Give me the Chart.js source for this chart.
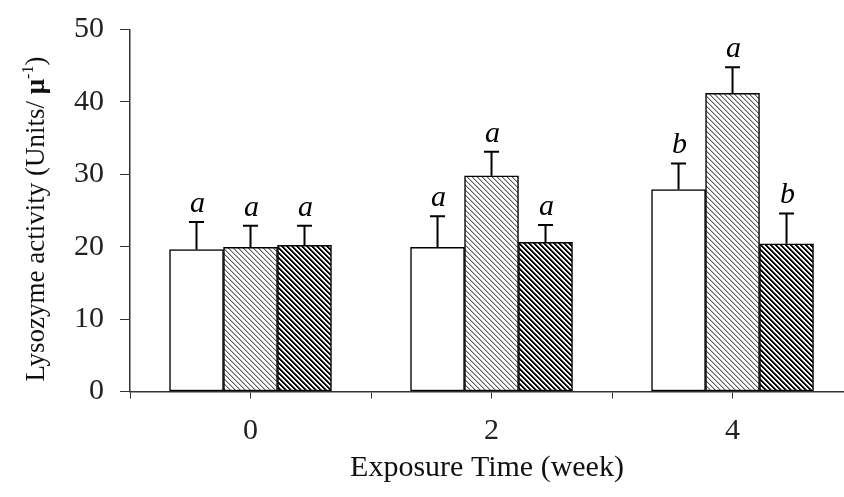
<!DOCTYPE html>
<html>
<head>
<meta charset="utf-8">
<script src="https://cdn.jsdelivr.net/npm/chart.js@4/dist/chart.umd.min.js"></script>
<style>
  html, body { margin: 0; padding: 0; background: #ffffff; }
  #wrap { position: relative; width: 844px; height: 497px; }
  canvas { display: block; }
</style>
</head>
<body>
<div id="wrap"><canvas id="c" width="844" height="497"></canvas></div>
<script>
// ---- data ----
const weeks = [0, 2, 4];
const xTickLabels = ['0', '2', '4'];
const seriesNames = ['Control', 'Treatment 1', 'Treatment 2'];
const controlMean = [19.6, 19.9, 27.9];
const controlSD   = [3.8, 4.3, 3.6];
const treat1Mean  = [19.9, 29.8, 41.2];
const treat1SD    = [3.0, 3.3, 3.6];
const treat2Mean  = [20.2, 20.6, 20.4];
const treat2SD    = [2.7, 2.4, 4.2];
const controlLetters = ['a', 'a', 'b'];
const treat1Letters  = ['a', 'a', 'a'];
const treat2Letters  = ['a', 'a', 'b'];
const yTicks = [0, 10, 20, 30, 40, 50];

const SERIF = "'Liberation Serif', 'Times New Roman', serif";

// ---- hatch patterns ----
function makePattern(kind) {
  const s = 5;
  const c = document.createElement('canvas');
  c.width = s; c.height = s;
  const g = c.getContext('2d');
  g.fillStyle = '#ffffff';
  g.fillRect(0, 0, s, s);
  for (let i = 0; i < s; i++) {
    if (kind === 'light') {
      g.fillStyle = '#5e5e5e';
      g.fillRect(i, i, 1, 1);
      g.fillStyle = '#bdbdbd';
      g.fillRect((i + 1) % s, i, 1, 1);
    } else {
      g.fillStyle = '#000000';
      g.fillRect(i, i, 1, 1);
      g.fillRect((i + 1) % s, i, 1, 1);
      g.fillStyle = '#707070';
      g.fillRect((i + 2) % s, i, 1, 1);
    }
  }
  const ctx = document.getElementById('c').getContext('2d');
  return ctx.createPattern(c, 'repeat');
}
const lightPat = makePattern('light');
const darkPat = makePattern('dark');

function pts(means) { return weeks.map((w, i) => ({ x: w, y: means[i] })); }

const sds = [controlSD, treat1SD, treat2SD];
const letters = [controlLetters, treat1Letters, treat2Letters];

// error bars + letters
const errPlugin = {
  id: 'errbars',
  afterDatasetsDraw(chart) {
    const ctx = chart.ctx;
    const ys = chart.scales.y;
    chart.data.datasets.forEach((ds, di) => {
      const meta = chart.getDatasetMeta(di);
      meta.data.forEach((el, i) => {
        const top = ys.getPixelForValue(ds.data[i].y + sds[di][i]);
        const x = el.x;
        ctx.save();
        ctx.strokeStyle = '#000';
        ctx.lineWidth = 2;
        ctx.beginPath();
        ctx.moveTo(x, el.y);
        ctx.lineTo(x, top);
        ctx.moveTo(x - 7.5, top);
        ctx.lineTo(x + 7.5, top);
        ctx.stroke();
        ctx.fillStyle = '#000';
        ctx.font = 'italic 30px ' + SERIF;
        ctx.textAlign = 'center';
        ctx.textBaseline = 'alphabetic';
        ctx.fillText(letters[di][i], x + 1, top - 10);
        ctx.restore();
      });
    });
  }
};

// y-axis title with bold mu and superscript
const yTitlePlugin = {
  id: 'ytitle',
  afterDraw(chart) {
    const ctx = chart.ctx;
    const parts = [
      { t: 'Lysozyme activity (Units/ ', f: '27px ' + SERIF, dy: 0 },
      { t: '\u03bc', f: 'bold 27px ' + SERIF, dy: 0 },
      { t: '-1', f: '16px ' + SERIF, dy: -11 },
      { t: ')', f: '27px ' + SERIF, dy: 0 }
    ];
    ctx.save();
    let total = 0;
    parts.forEach(p => { ctx.font = p.f; p.w = ctx.measureText(p.t).width; total += p.w; });
    const cx = 44, cy = 219;
    ctx.translate(cx, cy);
    ctx.rotate(-Math.PI / 2);
    ctx.fillStyle = '#111';
    ctx.textAlign = 'left';
    ctx.textBaseline = 'alphabetic';
    let x = -total / 2;
    parts.forEach(p => { ctx.font = p.f; ctx.fillText(p.t, x, p.dy); x += p.w; });
    ctx.restore();
  }
};

new Chart(document.getElementById('c'), {
  type: 'bar',
  data: {
    datasets: [
      { label: seriesNames[0], data: pts(controlMean), backgroundColor: '#ffffff', borderColor: '#000', borderWidth: 1.5, borderSkipped: false },
      { label: seriesNames[1], data: pts(treat1Mean), backgroundColor: lightPat, borderColor: '#000', borderWidth: 1.5, borderSkipped: false },
      { label: seriesNames[2], data: pts(treat2Mean), backgroundColor: darkPat, borderColor: '#000', borderWidth: 1.5, borderSkipped: false }
    ]
  },
  options: {
    responsive: false,
    animation: false,
    devicePixelRatio: 1,
    barThickness: 54,
    layout: { padding: { top: 29.5, right: 0, bottom: 0, left: 0 } },
    plugins: { legend: { display: false }, tooltip: { enabled: false } },
    scales: {
      x: {
        type: 'linear',
        min: -1,
        max: 4.925,
        offset: false,
        afterBuildTicks(scale) { scale.ticks = [-1, 0, 1, 2, 3, 4].map(v => ({ value: v })); },
        afterFit(scale) { scale.height = 105.5; scale.paddingLeft = 0; scale.paddingRight = 0; },
        grid: { offset: false, drawOnChartArea: false, drawTicks: true, tickLength: 7, tickColor: '#333', tickWidth: 1 },
        border: { display: true, color: '#333', width: 1.5 },
        ticks: {
          autoSkip: false,
          maxRotation: 0,
          padding: 15,
          color: '#222',
          font: { family: SERIF, size: 30 },
          callback(v) { const k = weeks.indexOf(v); return k >= 0 ? xTickLabels[k] : ''; }
        },
        title: {
          display: true,
          text: 'Exposure Time (week)',
          color: '#111',
          font: { family: SERIF, size: 30 },
          padding: { top: 0, bottom: 11 }
        }
      },
      y: {
        min: 0,
        max: 50,
        afterBuildTicks(scale) { scale.ticks = yTicks.map(v => ({ value: v })); },
        afterFit(scale) { scale.width = 130; scale.paddingTop = 0; scale.paddingBottom = 0; },
        grid: { drawOnChartArea: false, drawTicks: true, tickLength: 10, tickColor: '#333', tickWidth: 1 },
        border: { display: true, color: '#333', width: 1.5 },
        ticks: {
          padding: 16,
          color: '#222',
          font: { family: SERIF, size: 30 }
        }
      }
    }
  },
  plugins: [errPlugin, yTitlePlugin]
});
</script>
</body>
</html>
